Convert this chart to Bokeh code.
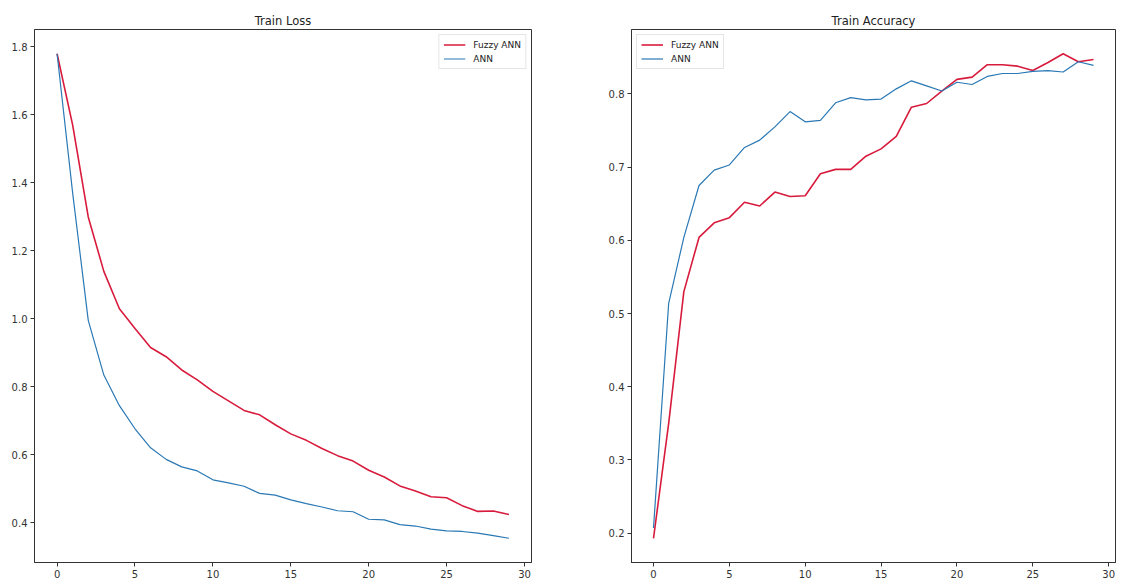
from bokeh.plotting import figure
from bokeh.layouts import row
from bokeh.models import Range1d, FixedTicker, NumeralTickFormatter
from bokeh.embed import file_html
from bokeh.resources import INLINE

# ---- data ----
epochs = list(range(30))

loss_fuzzy = [1.78, 1.57, 1.30, 1.14, 1.03, 0.972, 0.916, 0.889, 0.850, 0.821,
              0.787, 0.759, 0.731, 0.718, 0.689, 0.662, 0.643, 0.619, 0.598, 0.582,
              0.555, 0.535, 0.509, 0.494, 0.477, 0.474, 0.451, 0.434, 0.435, 0.425]
loss_ann = [1.78, 1.37, 0.996, 0.835, 0.745, 0.677, 0.621, 0.587, 0.565, 0.553,
            0.527, 0.518, 0.508, 0.487, 0.482, 0.468, 0.457, 0.447, 0.436, 0.433,
            0.411, 0.409, 0.395, 0.391, 0.382, 0.377, 0.375, 0.370, 0.363, 0.355]

acc_fuzzy = [0.193, 0.350, 0.530, 0.604, 0.624, 0.631, 0.652, 0.647, 0.666, 0.660,
             0.661, 0.691, 0.697, 0.697, 0.715, 0.725, 0.742, 0.782, 0.787, 0.804,
             0.820, 0.823, 0.840, 0.840, 0.838, 0.832, 0.843, 0.855, 0.844, 0.847]
acc_ann = [0.207, 0.514, 0.604, 0.675, 0.696, 0.703, 0.727, 0.737, 0.755, 0.776,
           0.762, 0.764, 0.788, 0.795, 0.792, 0.793, 0.807, 0.818, 0.811, 0.804,
           0.816, 0.813, 0.824, 0.828, 0.828, 0.831, 0.832, 0.830, 0.844, 0.839]

x_ticks = [0, 5, 10, 15, 20, 25, 30]
loss_ticks = [0.4, 0.6, 0.8, 1.0, 1.2, 1.4, 1.6, 1.8]
acc_ticks = [0.2, 0.3, 0.4, 0.5, 0.6, 0.7, 0.8]

series_labels = ["Fuzzy ANN", "ANN"]
titles = ["Train Loss", "Train Accuracy"]

RED = "#d81b3c"
BLUE = "#2a78b4"
FONT = "DejaVu Sans"
AXC = "#333333"


def padded(lo, hi, frac=0.05):
    span = hi - lo
    return lo - span * frac, hi + span * frac


def make_panel(title, ys_f, ys_a, yticks, legend_loc, fw, left_border, right_border):
    xs0, xs1 = padded(min(epochs), max(epochs))
    ylo, yhi = padded(min(min(ys_f), min(ys_a)), max(max(ys_f), max(ys_a)))
    p = figure(output_backend="svg", toolbar_location=None,
               frame_width=fw, frame_height=533,
               x_range=Range1d(xs0, xs1), y_range=Range1d(ylo, yhi),
               min_border_left=left_border, min_border_right=right_border,
               min_border_top=29, min_border_bottom=4,
               background_fill_color="white", border_fill_color="white")
    p.title.text = title
    p.title.align = "center"
    p.title.text_font = FONT
    p.title.text_font_size = "11.5px"
    p.title.text_font_style = "normal"
    p.title.text_color = "#222222"
    p.title.offset = 0
    p.title.standoff = 3

    p.line(epochs, ys_f, color=RED, line_width=1.6, legend_label=series_labels[0])
    p.line(epochs, ys_a, color=BLUE, line_width=1.2, legend_label=series_labels[1])

    p.xgrid.visible = False
    p.ygrid.visible = False
    p.outline_line_color = AXC
    p.outline_line_width = 1
    p.outline_line_alpha = 1

    p.xaxis.ticker = FixedTicker(ticks=x_ticks)
    p.yaxis.ticker = FixedTicker(ticks=yticks)
    p.yaxis.formatter = NumeralTickFormatter(format="0.0")
    for ax in (p.xaxis[0], p.yaxis[0]):
        ax.axis_line_color = AXC
        ax.major_tick_line_color = AXC
        ax.major_tick_out = 4
        ax.major_tick_in = 0
        ax.minor_tick_out = 0
        ax.minor_tick_in = 0
        ax.major_label_text_font = FONT
        ax.major_label_text_font_size = "10px"
        ax.major_label_text_color = "#333333"
        ax.major_label_standoff = 3

    lg = p.legend[0]
    lg.location = legend_loc
    lg.label_text_font = FONT
    lg.label_text_font_size = "9px"
    lg.label_text_color = "#222222"
    lg.glyph_width = 22
    lg.glyph_height = 11
    lg.label_height = 11
    lg.label_standoff = 8
    lg.spacing = 3
    lg.padding = 4
    lg.margin = 5
    lg.border_line_color = "#cccccc"
    lg.border_line_width = 1
    lg.background_fill_alpha = 0.8
    return p


p1 = make_panel(titles[0], loss_fuzzy, loss_ann, loss_ticks, "top_right", 497, 34, 10)
p2 = make_panel(titles[1], acc_fuzzy, acc_ann, acc_ticks, "top_left", 484, 90, 8)

layout = row(p1, p2)
open("out.html", "w").write(file_html(layout, INLINE))
